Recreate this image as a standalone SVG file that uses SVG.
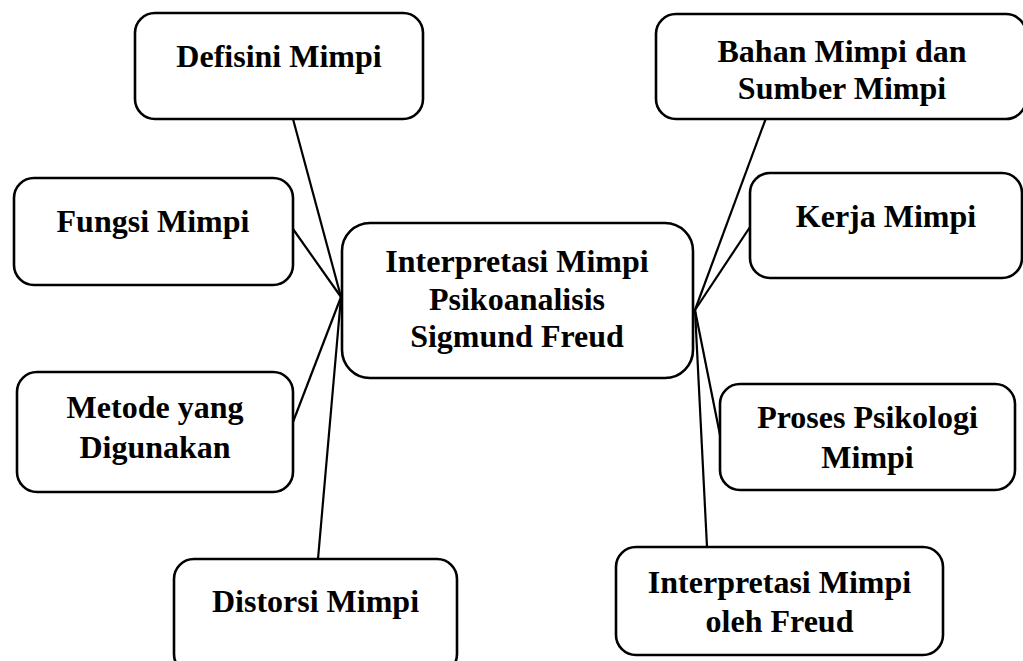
<svg xmlns="http://www.w3.org/2000/svg" width="1023" height="661" viewBox="0 0 1023 661">
<style>
.box{fill:#fff;stroke:#000;stroke-width:2.6}
.lbl{font-family:"Liberation Serif","Times New Roman",serif;font-weight:bold;font-size:32px;fill:#000;text-anchor:middle}
.con{stroke:#000;stroke-width:2.2;fill:none}
</style>
<rect width="1023" height="661" fill="#fff"/>
<g id="connectors">
<line class="con" x1="293" y1="119" x2="341" y2="297"/>
<line class="con" x1="293" y1="229" x2="341" y2="297"/>
<line class="con" x1="293" y1="422" x2="341" y2="297"/>
<line class="con" x1="318" y1="559" x2="341" y2="297"/>
<line class="con" x1="766" y1="118" x2="695" y2="310"/>
<line class="con" x1="750" y1="227" x2="695" y2="310"/>
<line class="con" x1="720" y1="435" x2="695" y2="310"/>
<line class="con" x1="707" y1="547" x2="695" y2="310"/>
</g>
<g id="center">
<rect class="box" x="342" y="223" width="351" height="155" rx="28"/>
<text class="lbl" x="517" y="272">Interpretasi Mimpi</text>
<text class="lbl" x="517" y="310">Psikoanalisis</text>
<text class="lbl" x="517" y="347">Sigmund Freud</text>
</g>
<g id="defisini">
<rect class="box" x="135" y="13" width="288" height="106" rx="20"/>
<text class="lbl" x="279" y="67">Defisini Mimpi</text>
</g>
<g id="fungsi">
<rect class="box" x="14" y="178" width="279" height="107" rx="20"/>
<text class="lbl" x="153" y="232">Fungsi Mimpi</text>
</g>
<g id="metode">
<rect class="box" x="17" y="372" width="276" height="120" rx="20"/>
<text class="lbl" x="155" y="418">Metode yang</text>
<text class="lbl" x="155" y="458">Digunakan</text>
</g>
<g id="distorsi">
<rect class="box" x="174" y="559" width="283" height="115" rx="20"/>
<text class="lbl" x="315.5" y="612">Distorsi Mimpi</text>
</g>
<g id="bahan">
<rect class="box" x="656" y="14" width="370" height="105" rx="20"/>
<text class="lbl" x="842" y="62">Bahan Mimpi dan</text>
<text class="lbl" x="842" y="99">Sumber Mimpi</text>
</g>
<g id="kerja">
<rect class="box" x="750" y="173" width="272" height="105" rx="20"/>
<text class="lbl" x="886" y="227">Kerja Mimpi</text>
</g>
<g id="proses">
<rect class="box" x="720" y="384" width="295" height="106" rx="20"/>
<text class="lbl" x="867.5" y="428">Proses Psikologi</text>
<text class="lbl" x="867.5" y="468">Mimpi</text>
</g>
<g id="interpretasi-freud">
<rect class="box" x="616" y="547" width="327" height="108" rx="20"/>
<text class="lbl" x="779.5" y="593">Interpretasi Mimpi</text>
<text class="lbl" x="779.5" y="632">oleh Freud</text>
</g>
</svg>
